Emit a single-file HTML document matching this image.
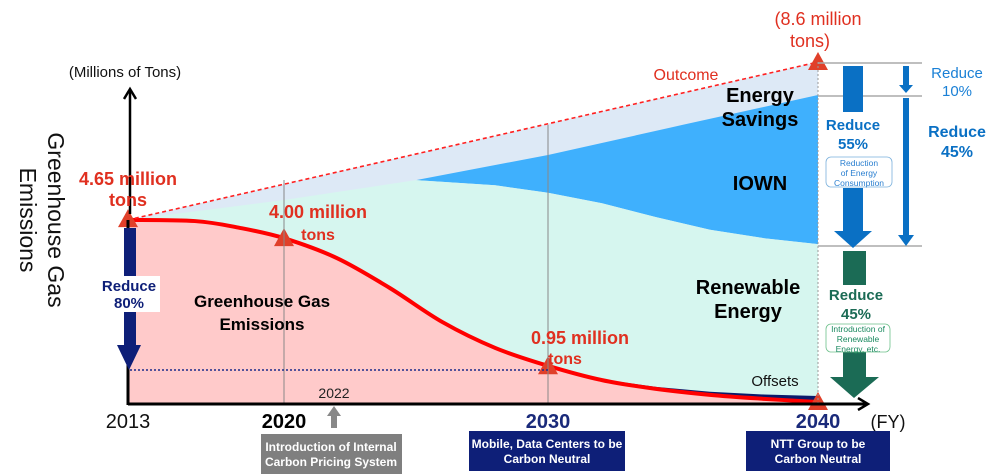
<!DOCTYPE html>
<html><head><meta charset="utf-8"><style>
body{margin:0;background:#fff}
svg{display:block;font-family:"Liberation Sans",Arial,sans-serif}
</style></head><body>
<svg id="c" width="1000" height="476" viewBox="0 0 1000 476">
<g id="areas"></g>
<g id="overlay"></g>
</svg>
<script>
// ---- data (millions of tons by fiscal year) ----
const tickYears = [2013, 2020, 2030, 2040];
const tickLabels = ["2013", "2020", "2030", "2040"];
const outcomeYears = [2013, 2040];
const outcomeValues = [4.63, 8.6];
const emissionYears = [2013, 2016, 2018, 2020, 2022, 2024, 2026, 2028, 2030, 2032, 2034, 2036, 2038, 2040];
const emissionValues = [4.63, 4.60, 4.43, 4.17, 3.67, 2.92, 2.06, 1.41, 0.96, 0.60, 0.38, 0.23, 0.13, 0.05];
const offsetExtra = [0, 0, 0, 0, 0, 0, 0, 0, 0, 0.02, 0.05, 0.08, 0.11, 0.15];
const renewYears = [2013, 2020, 2025, 2028, 2030, 2032, 2034, 2036, 2038, 2040];
const renewTop = [4.63, 5.13, 5.63, 5.50, 5.31, 5.05, 4.70, 4.38, 4.17, 4.02];
const iownYears = [2025, 2030, 2035, 2040];
const iownTop = [5.63, 6.26, 7.02, 7.77];
const milestones = [{y:2013,v:4.65},{y:2020,v:4.17},{y:2030,v:0.95},{y:2040,v:0.05}];

// ---- scales ----
const xDom = [2013, 2020, 2030, 2040], xRng = [128, 284, 548, 818];
function X(yr){for(let i=0;i<xDom.length-1;i++){if(yr<=xDom[i+1]||i==xDom.length-2){return xRng[i]+(yr-xDom[i])/(xDom[i+1]-xDom[i])*(xRng[i+1]-xRng[i]);}}}
const Y0 = 404, K = 39.77;
function Y(v){return Y0 - v*K;}
function lerp(ys, vs, yr){for(let i=0;i<ys.length-1;i++){if(yr>=ys[i]&&yr<=ys[i+1]){return vs[i]+(yr-ys[i])/(ys[i+1]-ys[i])*(vs[i+1]-vs[i]);}}return vs[vs.length-1];}

const NS = "http://www.w3.org/2000/svg";
const areas = document.getElementById('areas'), ov = document.getElementById('overlay');
function mk(tag, attrs, parent){const e=document.createElementNS(NS,tag);for(const k in attrs)e.setAttribute(k,attrs[k]);(parent||ov).appendChild(e);return e;}
function pts(ys, vs){return ys.map((y,i)=>X(y).toFixed(1)+","+Y(vs[i]).toFixed(1));}

let p = mk('polygon',{points:[...pts(outcomeYears,outcomeValues), X(2040)+","+Y0, X(2013)+","+Y0].join(' '),fill:'#dde9f6'},areas);


const iBot = [2025,2028,2030,2032,2034,2036,2038,2040];
p = mk('polygon',{points:[...pts(iownYears,iownTop), ...pts(iBot.slice().reverse(), iBot.slice().reverse().map(y=>lerp(renewYears,renewTop,y)))].join(' '),fill:'#3fb0fd'},areas);


p = mk('polygon',{points:[...pts(renewYears,renewTop), X(2040)+","+Y0, X(2013)+","+Y0].join(' '),fill:'#d6f6ef'},areas);


const offTop = emissionValues.map((v,i)=>v+offsetExtra[i]);
p = mk('polygon',{points:[...pts(emissionYears,offTop), X(2040)+","+Y0, X(2013)+","+Y0].join(' '),fill:'#0b1a6b'},areas);


p = mk('polygon',{points:[...pts(emissionYears,emissionValues), X(2040)+","+Y0, X(2013)+","+Y0].join(' '),fill:'#ffcaca'},areas);


function smooth(ys,vs){const P=ys.map((y,i)=>[X(y),Y(vs[i])]);let d="M"+P[0];for(let i=0;i<P.length-1;i++){const p0=P[i-1]||P[i],p1=P[i],p2=P[i+1],p3=P[i+2]||p2;const c1=[p1[0]+(p2[0]-p0[0])/6,p1[1]+(p2[1]-p0[1])/6],c2=[p2[0]-(p3[0]-p1[0])/6,p2[1]-(p3[1]-p1[1])/6];d+=" C"+c1+" "+c2+" "+p2;}return d;}
p = mk('path',{d:smooth(emissionYears,emissionValues),fill:'none',stroke:'#ff0000','stroke-width':4});


p = mk('polyline',{points:pts(outcomeYears,outcomeValues).join(' '),fill:'none',stroke:'#ff2020','stroke-width':1.6,'stroke-dasharray':'4,3'});


milestones.forEach(m=>{const x=X(m.y),y=Y(m.v);const t=mk('polygon',{points:`${x-10},${y+8} ${x+10},${y+8} ${x},${y-10}`,fill:'#e0402a'});

});
let t = mk('polygon',{points:`${X(2040)-10},${Y(8.6)+8} ${X(2040)+10},${Y(8.6)+8} ${X(2040)},${Y(8.6)-10}`,fill:'#e0402a'});


tickYears.forEach((yr,i)=>{const e=mk('text',{x:X(yr),y:428,'text-anchor':'middle','font-size':20,'font-weight':i==0?'normal':'bold',fill:i==0?'#111':(i==1?'#000':'#1a2a7a')});e.textContent=tickLabels[i];

});
</script>
<svg width="1000" height="476" style="position:absolute;left:0;top:0" font-family="Liberation Sans, Arial, sans-serif">
<defs><marker id="ah" markerUnits="userSpaceOnUse" markerWidth="14" markerHeight="14" refX="11" refY="7" orient="auto"><path d="M1,1 L11,7 L1,13" fill="none" stroke="#000" stroke-width="2.5"/></marker></defs>
<line x1="284" y1="180" x2="284" y2="404" stroke="#888" stroke-width="1"/>
<line x1="548" y1="125" x2="548" y2="404" stroke="#888" stroke-width="1"/>
<line x1="818" y1="62" x2="818" y2="404" stroke="#999" stroke-width="1" stroke-dasharray="2,2"/>
<line x1="130" y1="370" x2="548" y2="370" stroke="#1a2a8a" stroke-width="1.5" stroke-dasharray="2,2"/>
<line x1="128" y1="404" x2="868" y2="404" stroke="#000" stroke-width="3" marker-end="url(#ah)"/>
<line x1="128" y1="220" x2="128" y2="405" stroke="#000" stroke-width="3"/>
<line x1="130" y1="214" x2="130" y2="89" stroke="#000" stroke-width="2.5" marker-end="url(#ah)"/>
<text x="125" y="77" font-size="15" text-anchor="middle" fill="#111">(Millions of Tons)</text>
<text transform="translate(48,220) rotate(90)" font-size="23" text-anchor="middle" fill="#111">Greenhouse  Gas</text>
<text transform="translate(20,220) rotate(90)" font-size="23" text-anchor="middle" fill="#111">Emissions</text>
<rect x="124" y="228" width="12" height="118" fill="#0e1f78"/>
<polygon points="117,345 141,345 129,370" fill="#0e1f78"/>
<rect x="100" y="276" width="60" height="36" fill="#fff"/>
<text x="129" y="291" font-size="15" font-weight="bold" text-anchor="middle" fill="#0e1f78"><tspan x="129">Reduce</tspan><tspan x="129" dy="17">80%</tspan></text>
<g font-weight="bold" fill="#e03020" font-size="18" text-anchor="middle">
<text x="128" y="185">4.65 million</text><text x="128" y="206">tons</text>
<text x="318" y="218">4.00 million</text><text x="318" y="240" font-size="16">tons</text>
<text x="580" y="344">0.95 million</text><text x="565" y="364" font-size="16">tons</text>
</g>
<text x="818" y="25" font-size="18" fill="#e03020" text-anchor="middle">(8.6 million</text>
<text x="810" y="47" font-size="18" fill="#e03020" text-anchor="middle">tons)</text>
<text x="686" y="80" font-size="16" fill="#e03020" text-anchor="middle">Outcome</text>
<g font-weight="bold" font-size="20" fill="#000" text-anchor="middle">
<text x="760" y="102">Energy</text><text x="760" y="126">Savings</text>
<text x="760" y="190">IOWN</text>
<text x="748" y="294">Renewable</text><text x="748" y="318">Energy</text>
<text x="262" y="307" font-size="17">Greenhouse Gas</text><text x="262" y="330" font-size="17">Emissions</text>
</g>
<text x="775" y="386" font-size="15" fill="#111" text-anchor="middle">Offsets</text>
<text x="334" y="398" font-size="14" fill="#222" text-anchor="middle">2022</text>
<rect x="331" y="415" width="6" height="13" fill="#888"/><polygon points="327,416 341,416 334,406" fill="#888"/>
<text x="888" y="428" font-size="18" fill="#111" text-anchor="middle">(FY)</text>
<rect x="261" y="434" width="141" height="40" fill="#7f7f7f"/>
<text x="331" y="451" font-size="12" font-weight="bold" fill="#fff" text-anchor="middle"><tspan x="331">Introduction of Internal</tspan><tspan x="331" dy="15">Carbon Pricing System</tspan></text>
<rect x="469" y="431" width="156" height="40" fill="#0e1f78"/>
<text x="547" y="448" font-size="12" font-weight="bold" fill="#fff" text-anchor="middle"><tspan x="547">Mobile, Data Centers to be</tspan><tspan x="547" dy="15">Carbon Neutral</tspan></text>
<rect x="746" y="431" width="144" height="40" fill="#0e1f78"/>
<text x="818" y="448" font-size="12" font-weight="bold" fill="#fff" text-anchor="middle"><tspan x="818">NTT Group to be</tspan><tspan x="818" dy="15">Carbon Neutral</tspan></text>
<g stroke="#aaa" stroke-width="1.5"><line x1="818" y1="63" x2="922" y2="63"/><line x1="818" y1="96" x2="922" y2="96"/><line x1="818" y1="246" x2="922" y2="246"/></g>
<g fill="#0a70c4">
<rect x="843" y="66" width="20" height="46"/>
<rect x="843" y="188" width="20" height="44"/><polygon points="834,231 872,231 853,248"/>
<rect x="903" y="66" width="6" height="20"/><polygon points="899,85 913,85 906,93"/>
<rect x="903" y="98" width="6" height="138"/><polygon points="898,235 914,235 906,246"/>
</g>
<text x="853" y="130" font-size="15" font-weight="bold" fill="#0a70c4" text-anchor="middle"><tspan x="853">Reduce</tspan><tspan x="853" dy="19">55%</tspan></text>
<rect x="826" y="157" width="66" height="30" rx="5" fill="#fff" stroke="#7ab0dc" stroke-width="0.8"/>
<text x="859" y="166" font-size="8.5" fill="#2a7fd0" text-anchor="middle"><tspan x="859">Reduction</tspan><tspan x="859" dy="10">of Energy</tspan><tspan x="859" dy="10">Consumption</tspan></text>
<text x="957" y="78" font-size="15" fill="#1a80d6" text-anchor="middle"><tspan x="957">Reduce</tspan><tspan x="957" dy="18">10%</tspan></text>
<text x="957" y="137" font-size="16" font-weight="bold" fill="#0a70c4" text-anchor="middle"><tspan x="957">Reduce</tspan><tspan x="957" dy="20">45%</tspan></text>
<g fill="#1b6b55"><rect x="843" y="251" width="23" height="34"/><rect x="843" y="352" width="23" height="27"/><polygon points="830,377 879,377 854,398"/></g>
<text x="856" y="300" font-size="15" font-weight="bold" fill="#1b6b55" text-anchor="middle"><tspan x="856">Reduce</tspan><tspan x="856" dy="19">45%</tspan></text>
<rect x="826" y="324" width="64" height="28" rx="5" fill="#fff" stroke="#6cc08a" stroke-width="0.8"/>
<text x="858" y="332" font-size="8.5" fill="#1b8a60" text-anchor="middle"><tspan x="858">Introduction of</tspan><tspan x="858" dy="10">Renewable</tspan><tspan x="858" dy="10">Energy, etc.</tspan></text>
</svg>
</body></html>
